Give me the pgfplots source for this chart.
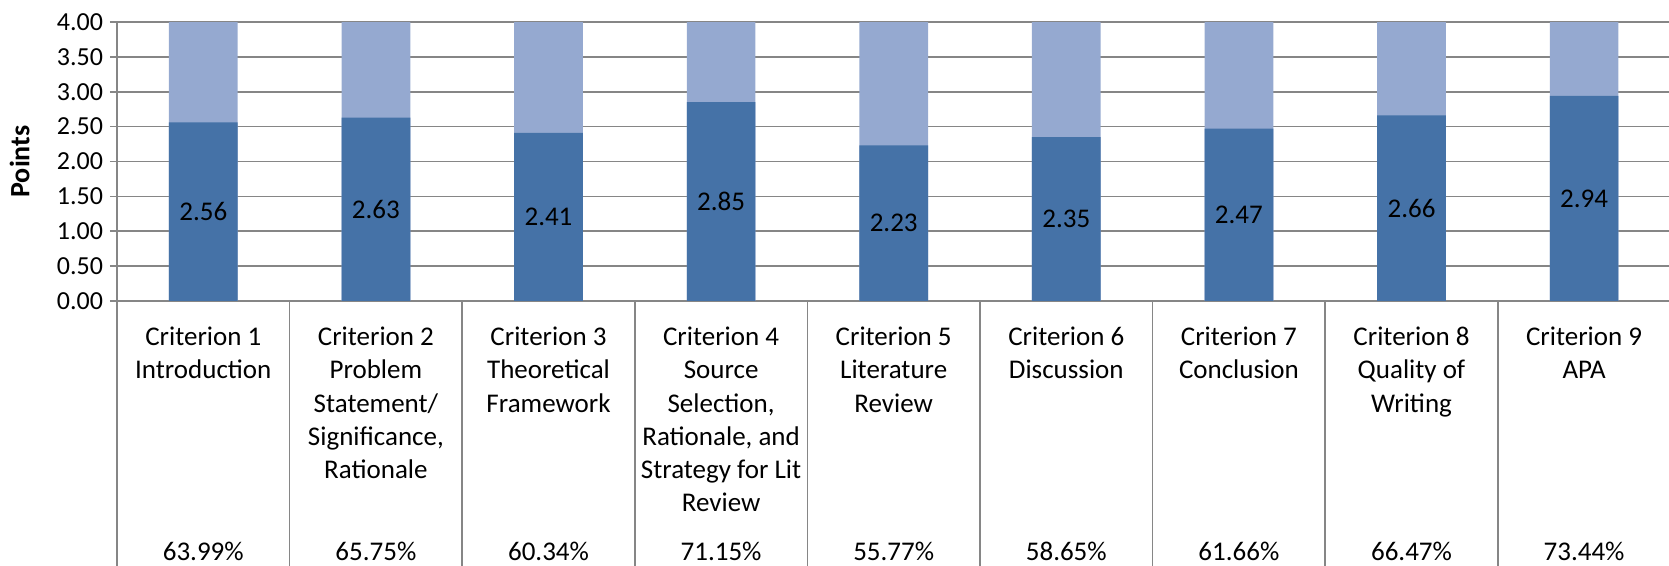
\documentclass[border=0pt]{standalone}
\usepackage{fontspec}
\setmainfont{Carlito}
\usepackage{pgfplots}
\usepackage{pgfplotstable}
\pgfplotsset{compat=1.18}
\definecolor{darkbar}{RGB}{69,114,167}
\definecolor{lightbar}{RGB}{149,169,208}
\definecolor{gridgray}{RGB}{134,134,134}

\pgfplotstableread{
x v full
0 2.56 4
1 2.63 4
2 2.41 4
3 2.85 4
4 2.23 4
5 2.35 4
6 2.47 4
7 2.66 4
8 2.94 4
}\data

\begin{document}
\begin{tikzpicture}
\useasboundingbox (-58.5pt,-132.5pt) rectangle (776pt,150.5pt);
\clip (-58.5pt,-132.5pt) rectangle (776pt,150.5pt);
\begin{axis}[
  scale only axis,
  width=776.7pt, height=139.5pt,
  xmin=-0.5, xmax=8.5, ymin=0, ymax=4,
  axis x line*=bottom, axis y line*=left,
  axis line style={gridgray, line width=0.8pt},
  ytick={0,0.5,...,4},
  ymajorgrids,
  grid style={gridgray, line width=0.8pt},
  tick align=outside,
  major tick length=3.5pt,
  minor tick length=133pt,
  tick style={gridgray, line width=0.8pt},
  major x tick style={draw=none},
  /pgf/number format/assume math mode=true,
  yticklabel style={font=\fontsize{13}{15}\selectfont, /pgf/number format/.cd, fixed, fixed zerofill, precision=2},
  xtick={0,...,8},
  minor xtick={-0.5,0.5,1.5,2.5,3.5,4.5,5.5,6.5,7.5,8.5},
  xticklabels={
    {Criterion 1\\Introduction},
    {Criterion 2\\Problem\\Statement/\\Significance,\\Rationale},
    {Criterion 3\\Theoretical\\Framework},
    {Criterion 4\\Source\\Selection,\\Rationale, and\\Strategy for Lit\\Review},
    {Criterion 5\\Literature\\Review},
    {Criterion 6\\Discussion},
    {Criterion 7\\Conclusion},
    {Criterion 8\\Quality of\\Writing},
    {Criterion 9\\APA}},
  xticklabel style={align=center, anchor=north, font=\fontsize{13.5}{16.6}\selectfont, yshift=-6pt},
  extra x ticks={0,1,2,3,4,5,6,7,8},
  extra x tick labels={63.99\%,65.75\%,60.34\%,71.15\%,55.77\%,58.65\%,61.66\%,66.47\%,73.44\%},
  extra x tick style={tick style={draw=none}, xticklabel style={yshift=-107.5pt}},
  ylabel={\textbf{Points}},
  ylabel style={at={(axis description cs:-0.0627,0.5)}, anchor=center, font=\fontsize{14}{16}\selectfont},
]
\addplot[ybar, bar width=34.35pt, bar shift=0pt, fill=lightbar, draw=none] table[x=x, y=full]{\data};
\addplot[ybar, bar width=34.35pt, bar shift=0pt, fill=darkbar, draw=none] table[x=x, y=v]{\data};
\addplot[ybar, bar width=34.35pt, bar shift=0pt, draw=none, fill=none,
  point meta=explicit,
  nodes near coords={\pgfmathprintnumber[fixed,fixed zerofill,precision=2,assume math mode=true]{\pgfplotspointmeta}},
  every node near coord/.append style={anchor=center, text=black, font=\fontsize{13.5}{15}\selectfont}]
  table[x=x, y expr=\thisrow{v}/2, meta=v]{\data};
\end{axis}
\end{tikzpicture}
\end{document}
